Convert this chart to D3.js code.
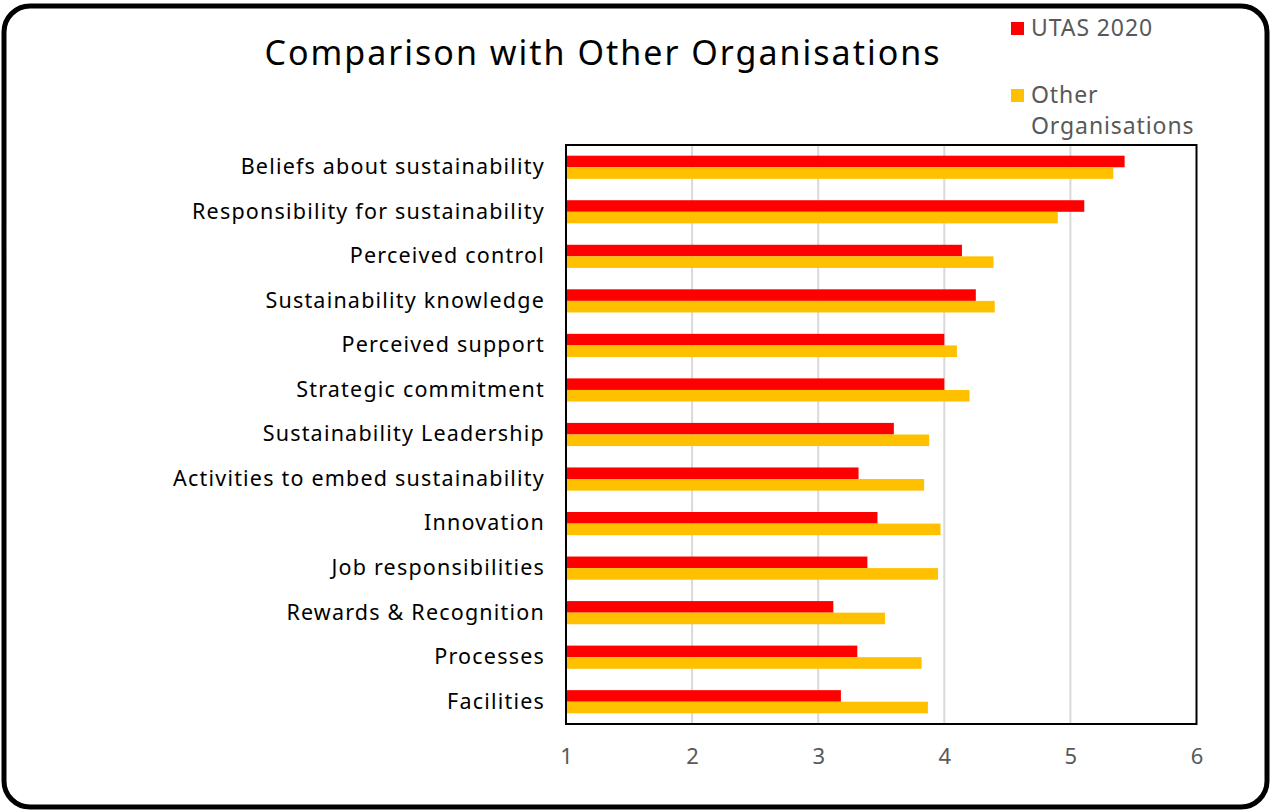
<!DOCTYPE html>
<html>
<head>
<meta charset="utf-8">
<script src="https://cdn.jsdelivr.net/npm/d3@7/dist/d3.min.js"></script>
<style>
  html, body { margin: 0; padding: 0; background: #fff; }
  svg { display: block; }
  text { font-family: "Noto Sans", "Open Sans", sans-serif; }
</style>
</head>
<body>
<svg id="chart" width="1271" height="811"></svg>
<script>
// Survey dimensions, top to bottom
const categories = [
  "Beliefs about sustainability",
  "Responsibility for sustainability",
  "Perceived control",
  "Sustainability knowledge",
  "Perceived support",
  "Strategic commitment",
  "Sustainability Leadership",
  "Activities to embed sustainability",
  "Innovation",
  "Job responsibilities",
  "Rewards & Recognition",
  "Processes",
  "Facilities"
];
const seriesNames = ["UTAS 2020", "Other Organisations"];
const utas2020 = [5.43, 5.11, 4.14, 4.25, 4.00, 4.00, 3.60, 3.32, 3.47, 3.39, 3.12, 3.31, 3.18];
const otherOrgs = [5.34, 4.90, 4.39, 4.40, 4.10, 4.20, 3.88, 3.84, 3.97, 3.95, 3.53, 3.82, 3.87];
const xTicks = [1, 2, 3, 4, 5, 6];
const colors = ["#FF0000", "#FFC000"];

const svg = d3.select("#chart");

// Rounded frame around the whole chart
svg.append("rect")
  .attr("x", 4).attr("y", 6)
  .attr("width", 1263).attr("height", 801)
  .attr("rx", 26).attr("ry", 26)
  .attr("fill", "#fff")
  .attr("stroke", "#000")
  .attr("stroke-width", 5);

const plot = { left: 566, right: 1196.5, top: 145, bottom: 724 };

const x = d3.scaleLinear().domain([1, 6]).range([plot.left, plot.right]);
const y = d3.scaleBand().domain(categories).range([plot.top, plot.bottom]).paddingInner(0.48).paddingOuter(0.24);
const ySub = d3.scaleBand().domain(seriesNames).range([0, y.bandwidth()]);

// Vertical gridlines
svg.append("g")
  .selectAll("line")
  .data(xTicks.slice(1, -1))
  .join("line")
  .attr("x1", d => x(d)).attr("x2", d => x(d))
  .attr("y1", plot.top).attr("y2", plot.bottom)
  .attr("stroke", "#d9d9d9")
  .attr("stroke-width", 2);

// Bars
const rows = categories.map((c, i) => ({ c, vals: [utas2020[i], otherOrgs[i]] }));
const groups = svg.append("g")
  .selectAll("g")
  .data(rows)
  .join("g")
  .attr("transform", d => `translate(0,${y(d.c)})`);

groups.selectAll("rect")
  .data(d => d.vals.map((v, k) => ({ v, k })))
  .join("rect")
  .attr("x", x(1))
  .attr("y", d => ySub(seriesNames[d.k]))
  .attr("width", d => x(d.v) - x(1))
  .attr("height", ySub.bandwidth())
  .attr("fill", d => colors[d.k]);

// Plot border
svg.append("rect")
  .attr("x", plot.left).attr("y", plot.top)
  .attr("width", plot.right - plot.left).attr("height", plot.bottom - plot.top)
  .attr("fill", "none")
  .attr("stroke", "#000")
  .attr("stroke-width", 2);

// Category labels
const yAxis = d3.axisLeft(y).tickSize(0).tickPadding(21);
const gy = svg.append("g").attr("transform", `translate(${plot.left},0)`).call(yAxis);
gy.select(".domain").remove();
gy.selectAll("text")
  .attr("font-size", 21.5)
  .attr("fill", "#000")
  .style("letter-spacing", "1.2px")
  .style("font-family", '"Noto Sans", sans-serif');

// Value axis labels
const xAxis = d3.axisBottom(x).tickValues(xTicks).tickSize(0).tickPadding(24).tickFormat(d3.format("d"));
const gx = svg.append("g").attr("transform", `translate(0,${plot.bottom})`).call(xAxis);
gx.select(".domain").remove();
gx.selectAll("text")
  .attr("font-size", 22)
  .attr("fill", "#595959")
  .style("font-family", '"Noto Sans", sans-serif');

// Title
svg.append("text")
  .attr("x", 603).attr("y", 65)
  .attr("text-anchor", "middle")
  .attr("font-size", 34)
  .attr("fill", "#000")
  .style("letter-spacing", "2px")
  .text("Comparison with Other Organisations");

// Legend
const legend = svg.append("g");
const legendRows = [
  { lines: ["UTAS 2020"], y: 28 },
  { lines: ["Other", "Organisations"], y: 95 }
];
legendRows.forEach((r, i) => {
  legend.append("rect")
    .attr("x", 1011).attr("y", r.y - 6)
    .attr("width", 13).attr("height", 13)
    .attr("fill", colors[i]);
  const t = legend.append("text")
    .attr("x", 1031).attr("y", r.y)
    .attr("font-size", 23)
    .style("letter-spacing", "0.9px")
    .attr("fill", "#595959");
  r.lines.forEach((ln, j) => {
    t.append("tspan").attr("x", 1031).attr("dy", j === 0 ? "0.35em" : "1.35em").text(ln);
  });
});
</script>
</body>
</html>
